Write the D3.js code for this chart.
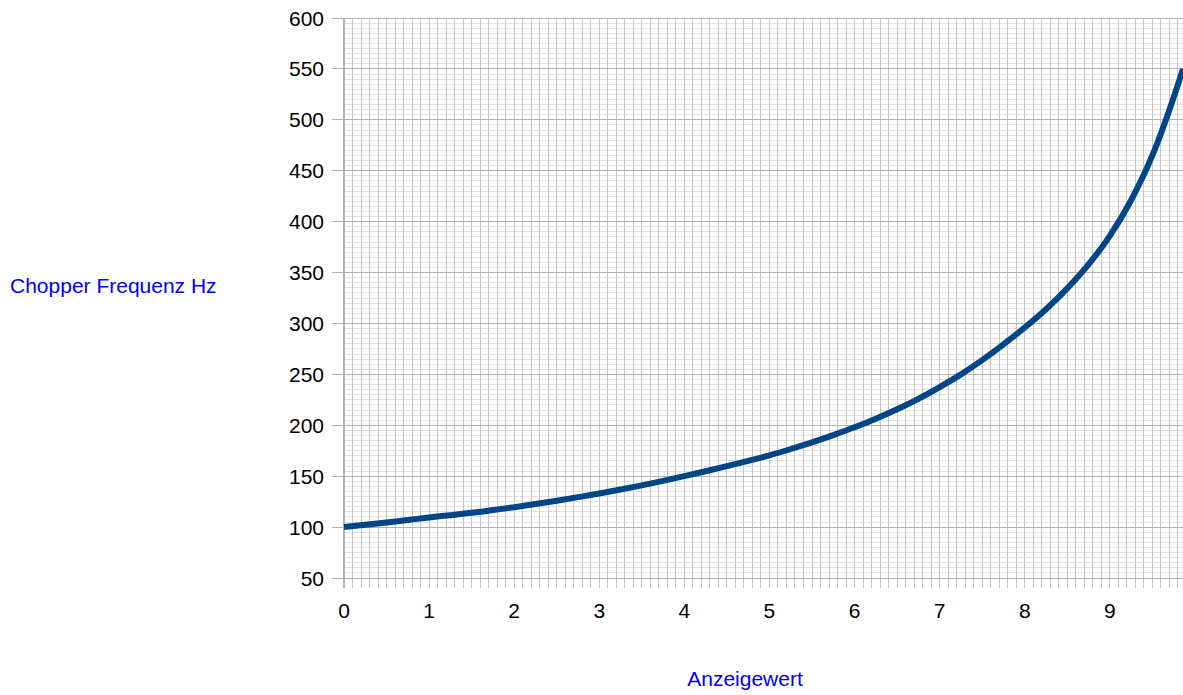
<!DOCTYPE html>
<html><head><meta charset="utf-8">
<script src="https://cdn.jsdelivr.net/npm/d3@7"></script>
<style>body{margin:0;background:#fff;font-family:"Liberation Sans",Arial,sans-serif;}</style>
</head><body>
<svg id="c" width="1183" height="695"></svg>
<script>
const xValues = [0,0.25,0.5,0.75,1,1.25,1.5,1.75,2,2.25,2.5,2.75,3,3.25,3.5,3.75,4,4.25,4.5,4.75,5,5.25,5.5,5.75,6,6.25,6.5,6.75,7,7.25,7.5,7.75,8,8.25,8.5,8.75,9,9.25,9.5,9.75,9.86];
const freqValues = [100,102.2,104.5,107,109.5,111.7,114,116.7,119.5,122.6,125.9,129.4,133,136.9,141,145.4,150,154.8,159.8,165,170.5,176.7,183.3,190.4,198,206.5,215.8,226,237.5,250,264,279.5,296,314,334.5,358,386,421,465,522,550];
const xTicks = [0,1,2,3,4,5,6,7,8,9];
const yTicks = [50,100,150,200,250,300,350,400,450,500,550,600];
const yTitle = "Chopper Frequenz Hz";
const xTitle = "Anzeigewert";

const svg = d3.select("#c");
const L = 344, R = 1183, T = 18, B = 578;
const x = d3.scaleLinear().domain([0, 9.86]).range([L, R]);
const y = d3.scaleLinear().domain([50, 600]).range([B, T]);

// minor horizontal grid
const yMinor = d3.range(50, 600.1, 5).filter(v => v % 50 !== 0);
svg.append("g").selectAll("line").data(yMinor).join("line")
  .attr("x1", L).attr("x2", R).attr("y1", d => y(d)).attr("y2", d => y(d))
  .attr("stroke", "#e3e3e3").attr("stroke-width", 1).attr("shape-rendering","crispEdges");
// vertical minor grid + ticks
const xMinor = d3.range(0, 9.86, 0.1).map(v => +v.toFixed(1)).filter(v => v > 0);
svg.append("g").selectAll("line").data(xMinor).join("line")
  .attr("x1", d => x(d)).attr("x2", d => x(d)).attr("y1", T).attr("y2", B + 10)
  .attr("stroke", "#c6c6c6").attr("stroke-width", 1).attr("shape-rendering","crispEdges");
// major horizontal grid
svg.append("g").selectAll("line").data(yTicks).join("line")
  .attr("x1", L - 12).attr("x2", R).attr("y1", d => y(d)).attr("y2", d => y(d))
  .attr("stroke", "#b3b3b3").attr("stroke-width", 1).attr("shape-rendering","crispEdges");
// left axis line
svg.append("line").attr("x1", L).attr("x2", L).attr("y1", T).attr("y2", B + 10)
  .attr("stroke", "#b3b3b3").attr("stroke-width", 2).attr("shape-rendering","crispEdges");

// y tick labels
svg.append("g").selectAll("text").data(yTicks).join("text")
  .attr("x", L - 20).attr("y", d => y(d) + 7.5).attr("text-anchor", "end")
  .attr("font-size", 21).attr("fill", "#000").text(d => d);
// x tick labels
svg.append("g").selectAll("text").data(xTicks).join("text")
  .attr("x", d => x(d)).attr("y", 618).attr("text-anchor", "middle")
  .attr("font-size", 21).attr("fill", "#000").text(d => d);

// line
const line = d3.line().x(d => x(d[0])).y(d => y(d[1])).curve(d3.curveMonotoneX);
svg.append("path").datum(xValues.map((v, i) => [v, freqValues[i]]))
  .attr("d", line).attr("fill", "none").attr("stroke", "#004586")
  .attr("stroke-width", 6).attr("stroke-linejoin", "round");

// titles
svg.append("text").attr("x", 10).attr("y", 293).attr("font-size", 21).attr("fill", "#0000ff").text(yTitle);
svg.append("text").attr("x", 745).attr("y", 686).attr("text-anchor","middle").attr("font-size", 21).attr("fill", "#0000ff").text(xTitle);
</script>
</body></html>
